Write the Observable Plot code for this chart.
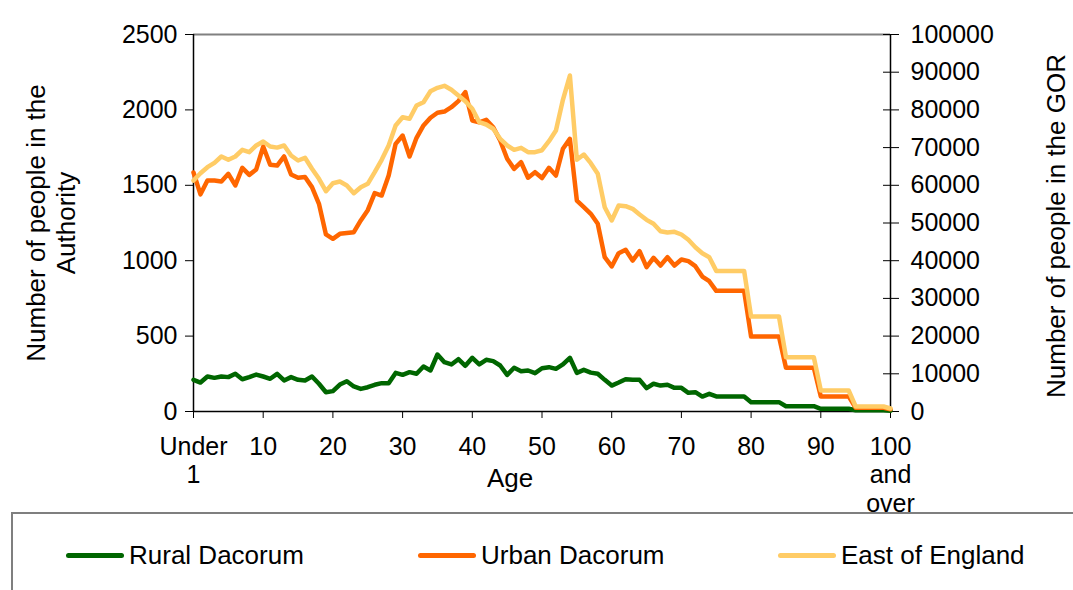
<!DOCTYPE html>
<html>
<head>
<meta charset="utf-8">
<script src="https://cdn.jsdelivr.net/npm/d3@7"></script>
<script src="https://cdn.jsdelivr.net/npm/@observablehq/plot@0.6"></script>
<style>
  html, body { margin: 0; padding: 0; background: #fff; }
  body { width: 1073px; height: 590px; overflow: hidden; font-family: "Liberation Sans", Arial, sans-serif; }
  #wrap { position: relative; width: 1073px; height: 590px; }
  #legend { position: absolute; left: 11px; top: 512px; width: 1062px; height: 78px;
            border-top: 2px solid #7f7f7f; border-left: 2px solid #7f7f7f; box-sizing: border-box; }
  .item { position: absolute; top: 26px; height: 30px; display: flex; align-items: center; font-size: 26px; color: #000; }
  .sw { display: inline-block; width: 58px; height: 5px; border-radius: 3px; margin-right: 5px; }
</style>
</head>
<body>
<div id="wrap">
  <div id="chart"></div>
  <div id="legend"></div>
</div>
<script>
// ---- data ----
const ages = d3.range(0, 101);
const seriesNames = ["Rural Dacorum", "Urban Dacorum", "East of England"];
const seriesColors = ["#006600", "#ff6600", "#ffcc66"];

const rural = [210,192,232,223,232,228,250,214,228,245,
  232,217,250,206,228,210,206,232,184,128,
  135,179,201,166,150,161,177,188,188,256,
  243,261,250,298,272,378,327,312,347,303,
  356,312,343,334,305,243,290,267,272,254,
  287,294,283,312,356,256,276,258,250,210,
  172,192,214,210,210,155,184,172,177,157,
  157,124,128,99,117,100,100,100,100,100,
  62,62,62,62,62,35,35,35,35,35,
  18,18,18,18,18,8,8,8,8,8,5];

const urban = [1585,1440,1532,1532,1525,1576,1499,1616,1569,1605,
  1757,1636,1631,1691,1572,1550,1555,1488,1377,1174,
  1145,1178,1183,1189,1267,1335,1448,1432,1565,1775,
  1830,1691,1815,1897,1948,1981,1989,2018,2058,2118,
  1930,1918,1934,1885,1797,1676,1609,1653,1550,1587,
  1548,1616,1565,1742,1808,1399,1355,1311,1245,1023,
  962,1050,1072,1001,1063,957,1019,968,1023,968,
  1008,997,964,895,864,800,800,800,800,800,
  497,497,497,497,497,290,290,290,290,290,
  100,100,100,100,100,25,25,25,25,25,15];

const east = [61270,63200,64800,65960,67640,66760,67640,69400,68780,70560,
  71620,70290,70000,70560,67900,66580,67290,64380,61720,58440,
  60560,61000,59950,57900,59500,60400,63480,66760,70560,75860,
  78060,77640,81170,82040,84960,85860,86390,85330,83820,82310,
  80290,76740,76130,74990,72330,70560,69400,69950,68780,68780,
  69300,71700,74540,82680,89120,66760,68170,65860,63050,54190,
  50660,54640,54460,53770,52250,50840,49790,47830,47480,47660,
  46950,45540,43580,41990,40930,37300,37300,37300,37300,37300,
  25200,25200,25200,25200,25200,14400,14400,14400,14400,14400,
  5570,5570,5570,5570,5570,1330,1330,1330,1330,1330,800];

const leftTicks = [0, 500, 1000, 1500, 2000, 2500];
const rightTicks = [0, 10000, 20000, 30000, 40000, 50000, 60000, 70000, 80000, 90000, 100000];
const xTicks = [0, 10, 20, 30, 40, 50, 60, 70, 80, 90, 100];
const xTickLabels = ["Under\n1", "10", "20", "30", "40", "50", "60", "70", "80", "90", "100\nand\nover"];
const leftMax = 2500, rightMax = 100000;
const ratio = rightMax / leftMax;

const xLabelMap = new Map(xTicks.map((t, i) => [t, xTickLabels[i]]));
const eastScaled = east.map(v => v / ratio);

const chart = Plot.plot({
  width: 1073,
  height: 513,
  marginLeft: 193,
  marginRight: 183,
  marginTop: 34,
  marginBottom: 102,
  style: { fontFamily: "'Liberation Sans', Arial, sans-serif", fontSize: "25px", color: "#000", background: "#fff", overflow: "visible" },
  x: { domain: [0, 100] },
  y: { domain: [0, leftMax] },
  marks: [
    Plot.ruleY([leftMax], { stroke: "#808080", strokeWidth: 2 }),
    Plot.axisY({ anchor: "left", ticks: leftTicks, tickFormat: d => String(d), tickSize: 8, tickPadding: 8, label: null }),
    Plot.axisY({ anchor: "right", ticks: rightTicks.map(v => v / ratio), tickFormat: v => String(Math.round(v * ratio)), tickSize: 8, tickPadding: 12, label: null }),
    Plot.axisY({ anchor: "right", ticks: rightTicks.map(v => v / ratio), tickFormat: () => "", tickSize: -8, label: null }),
    Plot.axisX({ ticks: xTicks, tickFormat: d => xLabelMap.get(d), tickSize: 7, tickPadding: 16, lineHeight: 1.14, label: null }),
    Plot.ruleX([0, 100], { stroke: "#000", strokeWidth: 1.5 }),
    Plot.ruleY([0], { stroke: "#000", strokeWidth: 1.5 }),
    Plot.line(ages, { x: ages, y: rural, stroke: seriesColors[0], strokeWidth: 4.5 }),
    Plot.line(ages, { x: ages, y: urban, stroke: seriesColors[1], strokeWidth: 4.5 }),
    Plot.line(ages, { x: ages, y: eastScaled, stroke: seriesColors[2], strokeWidth: 4.5 }),
    Plot.text(["Age"], { frameAnchor: "bottom", dx: -32, dy: 67, fontSize: 26, lineAnchor: "middle" }),
    Plot.text(["Number of people in the\nAuthority"], { frameAnchor: "left", dx: -143, rotate: -90, fontSize: 26, lineHeight: 1.15, lineAnchor: "middle", textAnchor: "middle" }),
    Plot.text(["Number of people in the GOR"], { frameAnchor: "right", dx: 166, dy: 3, rotate: -90, fontSize: 26, lineAnchor: "middle", textAnchor: "middle" })
  ]
});
document.getElementById("chart").appendChild(chart);

// ---- legend ----
const legendLeft = [53, 405, 765];
const legend = document.getElementById("legend");
seriesNames.forEach((name, i) => {
  const item = document.createElement("div");
  item.className = "item";
  item.style.left = legendLeft[i] + "px";
  const sw = document.createElement("span");
  sw.className = "sw";
  sw.style.background = seriesColors[i];
  const label = document.createElement("span");
  label.textContent = name;
  item.appendChild(sw);
  item.appendChild(label);
  legend.appendChild(item);
});
</script>
</body>
</html>
